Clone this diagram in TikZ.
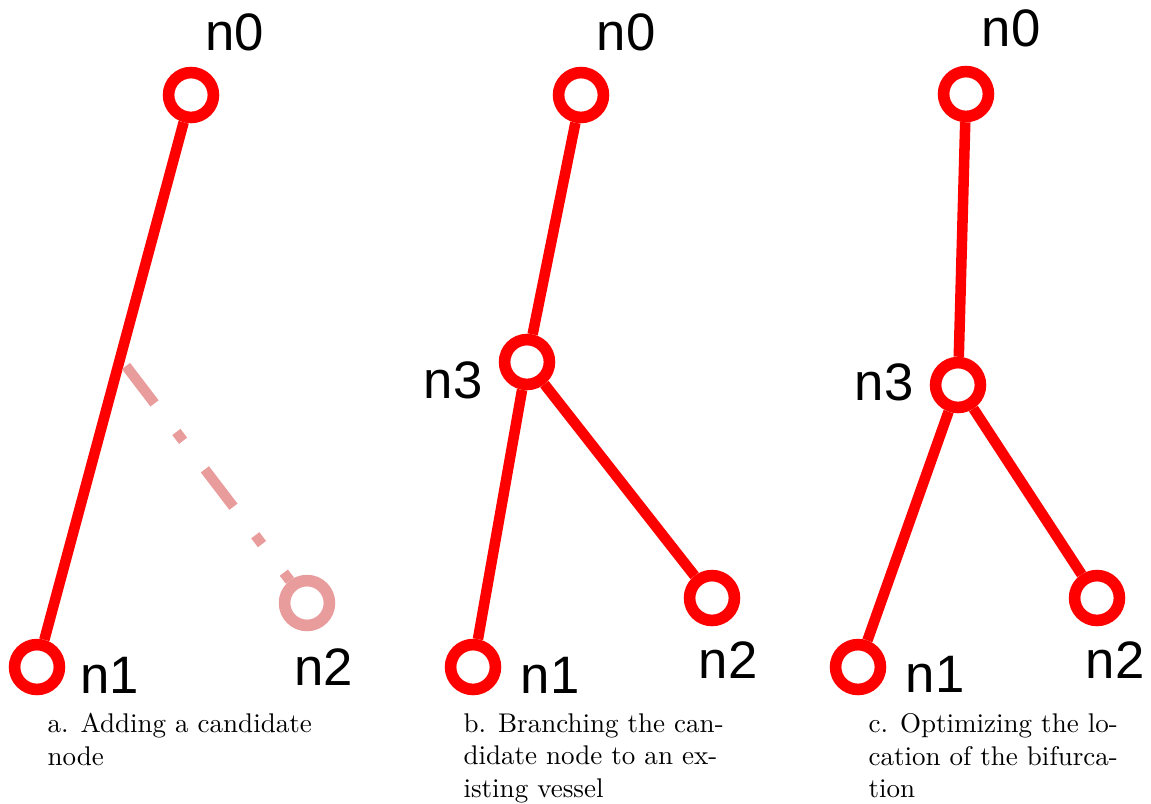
\documentclass[tikz,border=0pt]{standalone}
\usepackage{fontspec}
\newfontfamily\lblfont{Liberation Sans}
\definecolor{candred}{RGB}{232,156,156}

\begin{document}
\begin{tikzpicture}[x=0.37pt, y=-0.37pt,
    vnode/.style={circle, draw=red, line width=4.3pt, minimum size=16.6pt, inner sep=0pt},
    candnode/.style={vnode, draw=candred},
    vessel/.style={draw=red, line width=3.9pt},
    candvessel/.style={draw=candred, line width=3.8pt, dash pattern=on 17.4pt off 13.3pt on 4.1pt off 13.3pt},
    lbl/.style={font=\lblfont\fontsize{19.5}{23}\selectfont, inner sep=0pt},
    capt/.style={anchor=north west, align=left, inner sep=0pt}]
\useasboundingbox (0,0) rectangle (1151,803);

% a. candidate node
\node[vnode] (a0) at (191,95) {};
\node[vnode] (a1) at (37,667) {};
\node[candnode] (a2) at (307,603) {};
\coordinate (acand) at (126,366);
\draw[vessel] (a0) -- (a1);
\draw[candvessel] (acand) -- (a2);
\node[lbl] (a0l) at (235,32) {n0};
\node[lbl] (a1l) at (110,675) {n1};
\node[lbl] (a2l) at (324,667) {n2};
\node[capt] (capa) at (47,713) {a. Adding a candidate\\node};

% b. branching
\node[vnode] (b0) at (581,95) {};
\node[vnode] (b3) at (527,362) {};
\node[vnode] (b1) at (473,667) {};
\node[vnode] (b2) at (712,598) {};
\draw[vessel] (b0) -- (b3);
\draw[vessel] (b3) -- (b1);
\draw[vessel] (b3) -- (b2);
\node[lbl] (b0l) at (626,32) {n0};
\node[lbl] (b3l) at (453,380) {n3};
\node[lbl] (b1l) at (550,675) {n1};
\node[lbl] (b2l) at (728,660) {n2};
\node[capt] (capb) at (463,713) {b. Branching the can-\\didate node to an ex-\\isting vessel};

% c. optimized bifurcation
\node[vnode] (c0) at (966,94) {};
\node[vnode] (c3) at (958,385) {};
\node[vnode] (c1) at (858,667) {};
\node[vnode] (c2) at (1097,598) {};
\draw[vessel] (c0) -- (c3);
\draw[vessel] (c3) -- (c1);
\draw[vessel] (c3) -- (c2);
\node[lbl] (c0l) at (1011,28) {n0};
\node[lbl] (c3l) at (884,382) {n3};
\node[lbl] (c1l) at (935,674) {n1};
\node[lbl] (c2l) at (1115,660) {n2};
\node[capt] (capc) at (868,713) {c. Optimizing the lo-\\cation of the bifurca-\\tion};
\end{tikzpicture}
\end{document}
